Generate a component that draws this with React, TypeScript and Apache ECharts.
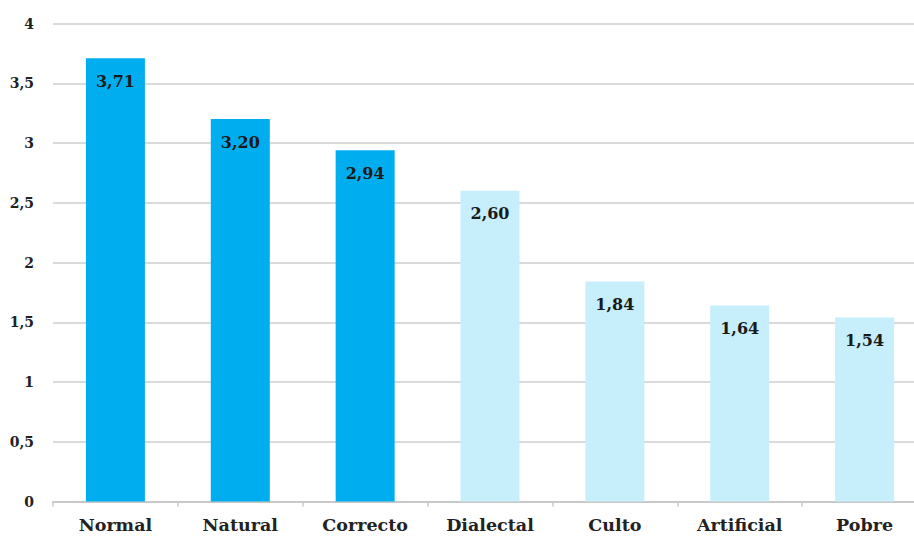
import React, { useEffect, useRef } from "react";
import * as echarts from "echarts";

const categories = ["Normal", "Natural", "Correcto", "Dialectal", "Culto", "Artificial", "Pobre"];
const values = [3.71, 3.2, 2.94, 2.6, 1.84, 1.64, 1.54];
// first three categories are highlighted in the stronger blue
const highlighted = [true, true, true, false, false, false, false];
const yTicks = [0, 0.5, 1, 1.5, 2, 2.5, 3, 3.5, 4];

const DARK = "#00AEEF";
const LIGHT = "#C6EEFB";
const SERIF = "DejaVu Serif";

const fmt = (v: number, digits: number) => v.toFixed(digits).replace(".", ",");

export default function App() {
  const ref = useRef<HTMLDivElement>(null);

  useEffect(() => {
    if (!ref.current) return;
    const chart = echarts.init(ref.current, undefined, { renderer: "svg" });
    chart.setOption({
      animation: false,
      backgroundColor: "#ffffff",
      // plot area runs past the right edge of the visible frame
      grid: { left: 53, top: 23.5, width: 874, height: 478, containLabel: false },
      xAxis: {
        type: "category",
        data: categories,
        axisLine: { lineStyle: { color: "#c8c8c8", width: 2 } },
        axisTick: { show: true, length: 5, lineStyle: { color: "#c8c8c8", width: 1.5 } },
        axisLabel: {
          margin: 14,
          fontFamily: SERIF,
          fontWeight: "bold",
          fontSize: 17.5,
          color: "#222222",
        },
      },
      yAxis: {
        type: "value",
        min: yTicks[0],
        max: yTicks[yTicks.length - 1],
        interval: 0.5,
        axisLine: { show: false },
        axisTick: { show: false },
        splitLine: { lineStyle: { color: "#dadada", width: 2 } },
        axisLabel: {
          margin: 19,
          fontFamily: SERIF,
          fontWeight: "bold",
          fontSize: 14,
          color: "#222222",
          formatter: (v: number) => (Number.isInteger(v) ? String(v) : fmt(v, 1)),
        },
      },
      series: [
        {
          type: "bar",
          barWidth: 59,
          data: values.map((v, i) => ({
            value: v,
            itemStyle: { color: highlighted[i] ? DARK : LIGHT },
          })),
          label: {
            show: true,
            position: "insideTop",
            distance: 15,
            fontFamily: SERIF,
            fontWeight: "bold",
            fontSize: 16,
            color: "#1a1a1a",
            formatter: (p: any) => fmt(p.value, 2),
          },
        },
      ],
    });
    return () => chart.dispose();
  }, []);

  return (
    <div
      style={{
        position: "absolute",
        left: 0,
        top: 0,
        width: 914,
        height: 536,
        overflow: "hidden",
        background: "#fff",
      }}
    >
      <div ref={ref} style={{ width: 940, height: 536 }} />
    </div>
  );
}
